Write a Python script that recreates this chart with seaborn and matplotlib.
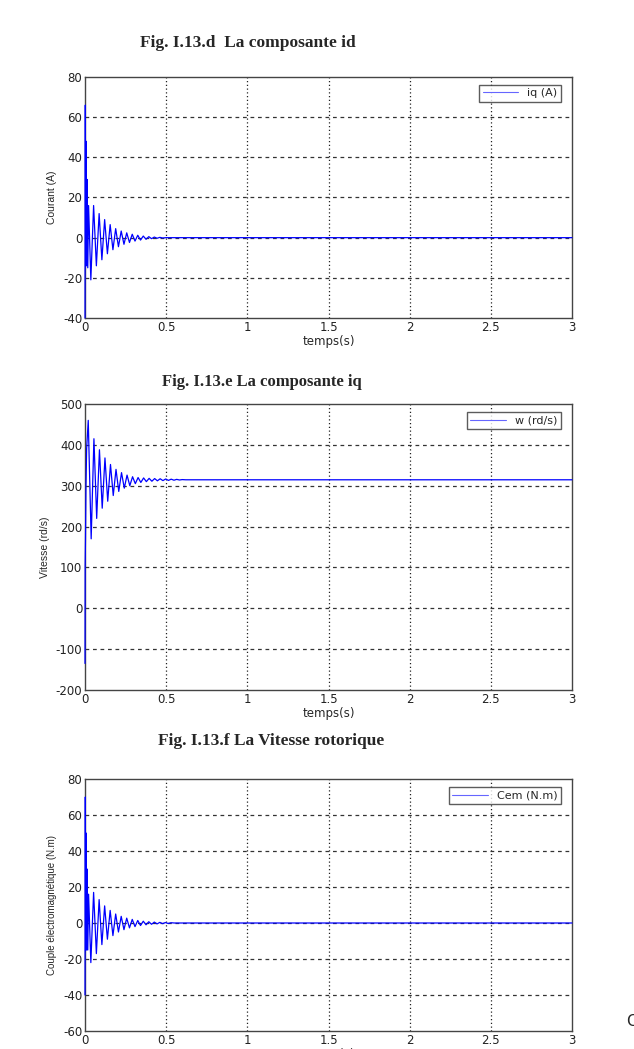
import matplotlib
matplotlib.use("Agg")
import matplotlib.pyplot as plt
import seaborn as sns
import pandas as pd

# id current (legend says iq in the original)
id_t = [0.000, 0.002, 0.004, 0.007, 0.010, 0.013, 0.017, 0.022, 0.036, 0.053, 0.070, 0.087,
        0.104, 0.121, 0.138, 0.155, 0.172, 0.189, 0.206, 0.223, 0.240, 0.257, 0.274, 0.291,
        0.308, 0.325, 0.342, 0.359, 0.376, 0.393, 0.410, 0.427, 0.444, 0.461, 0.478, 0.500, 3.0]
id_v = [-40, 66, -14, 48, -14, 29, -15, 16, -21, 16, -14, 12,
        -11, 9, -8, 6.5, -6, 4.5, -4.5, 3.3, -3.3, 2.4, -2.4, 1.7,
        -1.7, 1.2, -1.2, 0.8, -0.8, 0.5, -0.5, 0.3, -0.3, 0.15, -0.15, 0, 0]

# vitesse rotorique
w_t = [0.000, 0.001, 0.003, 0.006, 0.010, 0.020, 0.038, 0.055, 0.072, 0.089, 0.106, 0.123,
       0.140, 0.157, 0.174, 0.191, 0.208, 0.225, 0.242, 0.259, 0.276, 0.293, 0.310, 0.327,
       0.344, 0.361, 0.378, 0.395, 0.412, 0.429, 0.446, 0.463, 0.480, 0.497, 0.514, 0.531,
       0.548, 0.565, 0.582, 0.599, 0.620, 3.0]
w_v = [-135, 105, 170, 300, 390, 460, 170, 415, 220, 388, 245, 368,
       262, 352, 276, 340, 286, 332, 294, 326, 300, 322, 305, 320,
       308, 319, 310, 318, 311, 317.5, 312, 317, 312.5, 316.5, 313, 316,
       313.5, 315.5, 314, 315, 314.5, 314.5]

# couple electromagnetique
cem_t = [0.000, 0.002, 0.004, 0.007, 0.010, 0.013, 0.017, 0.022, 0.036, 0.053, 0.070, 0.087,
         0.104, 0.121, 0.138, 0.155, 0.172, 0.189, 0.206, 0.223, 0.240, 0.257, 0.274, 0.291,
         0.308, 0.325, 0.342, 0.359, 0.376, 0.393, 0.410, 0.427, 0.444, 0.461, 0.478, 0.495,
         0.512, 0.530, 0.550, 3.0]
cem_v = [-40, 70, -15, 50, -15, 30, -15, 16, -22, 17, -17, 13,
         -12, 9.5, -9, 7, -7, 5, -5, 3.7, -3.7, 2.7, -2.7, 2,
         -2, 1.4, -1.4, 1, -1, 0.7, -0.7, 0.5, -0.5, 0.35, -0.35, 0.25,
         -0.25, 0.15, 0, 0]

x_ticks = [0, 0.5, 1, 1.5, 2, 2.5, 3]
x_ticklabels = ["0", "0.5", "1", "1.5", "2", "2.5", "3"]

titres = ["Fig. I.13.d  La composante id", "Fig. I.13.e La composante iq", "Fig. I.13.f La Vitesse rotorique"]
ylabels = ["Courant (A)", "Vitesse (rd/s)", "Couple électromagnétique (N.m)"]
legendes = ["iq (A)", "w (rd/s)", "Cem (N.m)"]
ylims = [(-40, 80), (-200, 500), (-60, 80)]
yticks = [range(-40, 81, 20), range(-200, 501, 100), range(-60, 81, 20)]

sns.set_style("white")
plt.rcParams['font.family'] = ['DejaVu Sans']
plt.rcParams['axes.unicode_minus'] = False

fig = plt.figure(figsize=(6.34, 10.49), dpi=100)

W, H = 634, 1049
# (top, bottom) pixel positions of each axes
boites = [(77, 318), (404, 690), (779, 1031)]
titre_pos = [(248, 43), (262, 382), (271, 741)]
titre_taille = [12.5, 12, 12.5]
ylabel_taille = [7.5, 7.5, 7]
donnees = [(id_t, id_v), (w_t, w_v), (cem_t, cem_v)]

for i in range(3):
    top, bot = boites[i]
    ax = fig.add_axes([85 / W, 1 - bot / H, (572 - 85) / W, (bot - top) / H])
    t, v = donnees[i]
    df = pd.DataFrame({'t': t, 'v': v})
    sns.lineplot(data=df, x='t', y='v', ax=ax, color='#0000ff', linewidth=0.9,
                 estimator=None, sort=False, label=legendes[i], zorder=3)
    ax.lines[0].set_clip_on(False)

    ax.set_xlim(0, 3)
    ax.set_ylim(*ylims[i])
    ax.set_xticks(x_ticks)
    ax.set_xticklabels(x_ticklabels)
    ax.set_yticks(list(yticks[i]))
    ax.tick_params(labelsize=8.5, direction='in', length=3, colors='#222222', pad=2)
    ax.set_xlabel("temps(s)", fontsize=8.5, labelpad=1)
    ax.set_ylabel(ylabels[i], fontsize=ylabel_taille[i], labelpad=4,
                  family=['Liberation Sans', 'DejaVu Sans'])

    # grille : verticale pointillee, horizontale tiretee
    for xv in x_ticks[1:-1]:
        ax.axvline(xv, color='#222222', linestyle=(0, (1, 2)), linewidth=0.9, zorder=0)
    for yv in list(yticks[i])[1:-1]:
        ax.axhline(yv, color='#333333', linestyle=(0, (3, 3)), linewidth=0.9, zorder=0)

    for s in ax.spines.values():
        s.set_color('#444444')
        s.set_linewidth(1.0)
        s.set_zorder(2)

    leg = ax.legend(loc='upper right', fontsize=8, frameon=True, fancybox=False,
                    handlelength=3.2, borderpad=0.3, bbox_to_anchor=(0.988, 0.99))
    leg.get_frame().set_edgecolor('#333333')
    leg.get_frame().set_linewidth(1.0)
    for ln in leg.get_lines():
        ln.set_linewidth(0.8)
        ln.set_color('#6666ff')

    tx, ty = titre_pos[i]
    fig.text(tx / W, 1 - ty / H, titres[i], ha='center', va='center',
             fontsize=titre_taille[i], fontweight='bold', family=['Liberation Serif', 'DejaVu Serif'])

fig.text(626 / W, 1 - 1022 / H, "C", ha='left', va='center', fontsize=11)

fig.savefig("out.png", dpi=100)
